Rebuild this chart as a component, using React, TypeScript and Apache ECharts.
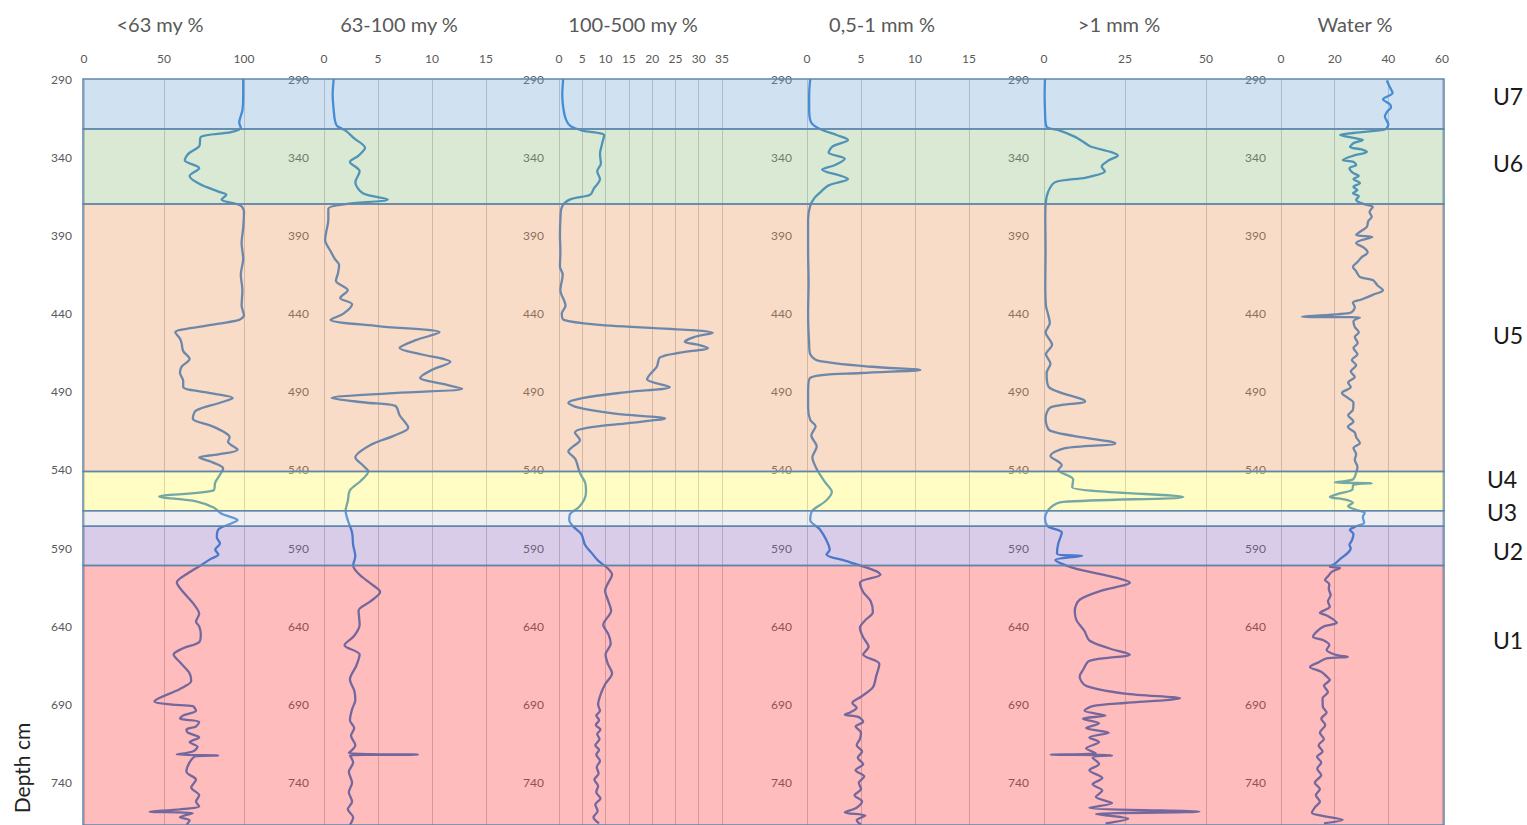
import React, { useEffect, useRef } from 'react';
import * as echarts from 'echarts';

// ---------- axis / text data ----------
const titles = ['<63 my %', '63-100 my %', '100-500 my %', '0,5-1 mm %', '>1 mm %', 'Water %'];
const xMax = [100, 15, 35, 15, 50, 60];
const xInterval = [50, 5, 5, 5, 25, 20];
const depthTicks = [290, 340, 390, 440, 490, 540, 590, 640, 690, 740];
const depthMin = 290;
const depthMax = 767;

// ---------- units ----------
const unitNames = ['U7', 'U6', 'U5', 'U4', 'U3', 'U2', 'U1'];
const unitTop = [290, 322, 370, 541, 566, 576, 601];
const unitBottom = [322, 370, 541, 566, 576, 601, 767];
const unitLabelDepth = [301, 344, 454, 546, 567, 592, 649];

// ---------- series ----------
const p1Depth = [290, 300, 310, 318, 321, 324, 327, 333, 338, 342, 347, 352, 357, 362, 364, 367, 371, 375, 385, 395, 405, 415, 425, 435, 441, 444, 448, 452, 456, 459, 464, 469, 474, 478, 483, 487, 491, 494, 497, 502, 507, 512, 516, 519, 522, 527, 530, 532, 535, 539, 543, 548, 553, 557, 560, 564, 568, 572, 575, 578, 583, 587, 591, 594, 597, 601, 606, 612, 618, 625, 632, 637, 640, 645, 650, 654, 658, 663, 670, 675, 680, 688, 690, 691, 694, 697, 699, 701, 704, 706, 708, 711, 714, 717, 720, 722, 722.5, 723, 727, 733, 738, 743, 748, 752, 755, 757, 758.5, 759.5, 762, 764, 767];
const p1Val = [99.5, 99.5, 99, 97, 98, 92, 73, 72, 65, 63, 72, 66, 72, 84, 89, 86, 98, 100, 99.5, 98.5, 99.5, 98, 99, 98.5, 100, 97, 75, 57, 60, 61, 62, 66, 61, 60, 62, 62, 80, 93, 85, 70, 68, 80, 88, 91, 90, 96, 84, 72, 80, 87, 85, 82, 81, 47, 70, 81, 86, 96, 90, 84, 83, 85, 82, 84, 79, 73, 65, 58, 62, 68, 72, 70, 72, 73, 72, 62, 56, 60, 66, 67, 60, 44, 55, 68, 70, 62, 60, 72, 70, 64, 65, 72, 66, 71, 68, 58, 84, 70, 66, 64, 70, 67, 72, 70, 72, 60, 41, 68, 60, 66, 64];

const p2Depth = [290, 300, 310, 316, 320, 323, 328, 334, 339, 343, 349, 356, 363, 367, 370, 373, 380, 388, 393, 400, 405, 409, 414, 419, 425, 430, 434, 440, 444, 448, 452, 457, 462, 466, 471, 476, 481, 485, 488, 491, 494, 497, 499, 505, 513, 518, 524, 532, 537, 541, 547, 553, 560, 566, 572, 580, 588, 595, 601, 607, 613, 618, 624, 630, 639, 646, 652, 658, 665, 674, 681, 687, 693, 700, 705, 710, 716, 721, 722, 722.5, 727, 733, 740, 746, 752, 757, 762, 767];
const p2Val = [0.9, 0.8, 0.9, 1.0, 1.2, 2.0, 2.8, 3.8, 3.2, 2.4, 3.3, 2.9, 3.6, 5.9, 2.0, 0.4, 0.4, 0.2, 0.1, 0.6, 1.0, 1.4, 1.3, 1.1, 2.2, 1.5, 2.6, 1.8, 0.6, 5, 10.7, 8.5, 7, 9, 11.7, 10, 8.9, 11, 12.8, 6, 0.7, 4, 6.6, 7, 7.8, 6.5, 4.3, 2.9, 3.6, 4.1, 3.4, 2.4, 2.2, 2.0, 2.2, 2.6, 2.7, 2.9, 2.7, 3.3, 4.4, 5.2, 4.3, 3.2, 3.3, 2.8, 1.9, 3.3, 3.0, 2.4, 2.8, 2.9, 2.6, 2.4, 2.8, 2.5, 2.9, 2.3, 8.7, 2.4, 2.7, 2.3, 2.6, 2.3, 2.6, 2.2, 2.7, 2.4];

const p3Depth = [290, 300, 310, 316, 320, 323, 326, 332, 338, 344, 349, 354, 360, 364, 367, 372, 380, 390, 400, 410, 415, 425, 435, 440, 444, 447, 452.4, 455, 458, 460, 462, 465, 468, 474, 479, 482, 487, 490, 494, 497, 500, 504, 507, 510, 513, 516, 521, 525, 528, 533, 542, 548, 554, 559, 564, 568, 572, 576, 581, 588, 593, 598, 603, 607, 612, 617, 624, 630, 639, 645, 651, 658, 664, 670, 677, 683, 690, 694, 697, 700, 703, 706, 709, 712, 716, 719, 722, 726, 730, 734, 738, 742, 746, 750, 754, 758, 762, 766];
const p3Val = [0.9, 0.7, 1.0, 1.5, 2.4, 5, 9.7, 9.2, 8.8, 9.0, 8.2, 8.8, 7.5, 6.7, 2.4, 0.6, 0.3, 0.2, 0.3, 0.2, 0.8, 0.3, 1.4, 0.6, 1, 8, 33, 29, 27, 30, 32, 26, 21.7, 21, 19.5, 18.9, 23.8, 15, 5, 2, 4, 12, 22.8, 15, 6, 3.4, 4.5, 3, 2, 3.5, 4.5, 5.6, 5.8, 5.4, 4.2, 2.4, 2.2, 3.0, 4.8, 5.6, 7.0, 8.4, 10.5, 11.4, 10.6, 9.9, 10.6, 11.2, 9.5, 10.6, 11.1, 10.0, 10.5, 11.4, 9.9, 9.0, 8.4, 8.8, 8.0, 8.6, 7.9, 8.9, 8.2, 8.7, 7.8, 8.6, 8.0, 8.8, 8.1, 8.5, 7.6, 8.4, 8.0, 8.9, 7.8, 8.3, 7.4, 8.6];

const p4Depth = [290, 300, 310, 318, 322, 326, 329, 333, 337, 341, 345, 348, 352, 354, 358, 362, 366, 371, 380, 400, 420, 440, 460, 466, 470, 474, 476, 478, 481, 490, 500, 508, 512, 518, 525, 532, 538, 543, 548, 554, 560, 566, 572, 578, 585, 591, 594, 598, 601, 605, 607, 612, 618, 624, 631, 636, 641, 647, 653, 658, 664, 672, 679, 685, 689, 692, 695, 696.5, 698, 701, 704, 708, 712, 716, 720, 724, 728, 732, 736, 740, 744, 748, 752, 756, 759, 761, 764, 767];
const p4Val = [0.3, 0.2, 0.2, 0.4, 1.2, 2.8, 3.8, 2.4, 2.0, 3.5, 2.6, 1.4, 3.2, 3.8, 2.0, 1.3, 0.7, 0.3, 0.1, 0.1, 0.15, 0.1, 0.2, 0.3, 1.0, 6, 10.5, 5, 0.3, 0.1, 0.1, 0.3, 0.8, 0.4, 0.9, 0.5, 0.8, 1.2, 1.7, 2.3, 1.7, 0.5, 0.3, 1.2, 1.8, 2.1, 1.8, 3.5, 4.9, 6.5, 6.8, 4.9, 5.2, 5.9, 6.1, 5.4, 4.9, 5.2, 5.7, 5.2, 6.7, 6.4, 6.1, 5.0, 4.2, 4.6, 4.0, 3.5, 4.8, 5.2, 4.5, 5.0, 4.9, 4.6, 5.1, 4.7, 5.2, 4.5, 5.3, 4.8, 5.0, 4.4, 5.1, 4.6, 3.5, 5.4, 4.6, 5.0];

const p5Depth = [290, 300, 310, 318, 321, 323, 327, 330, 333, 339, 342, 346, 349, 353, 356, 362, 370, 380, 400, 420, 435, 440, 446, 452, 460, 466, 472, 478, 487, 496, 500, 507, 515, 523, 526, 531, 537, 540, 546, 551, 557.2, 560.4, 564, 570.6, 576, 580, 587, 593.6, 594.9, 597.5, 602.6, 609, 612, 617, 623, 630, 636, 643, 649, 654, 658, 662, 668, 672, 678, 683, 686, 689, 691, 694, 697, 699, 702, 705, 708, 711, 714, 718, 721, 722, 722.5, 724, 728, 732, 737, 741, 745, 749, 753, 756, 758.5, 760, 763, 766];
const p5Val = [0.3, 0.2, 0.3, 0.5, 1.0, 4.9, 9.6, 12, 14.2, 22.8, 20, 17.8, 18.8, 13, 3.4, 1.3, 0.5, 0.4, 0.5, 0.4, 0.6, 1.2, 1.8, 0.5, 2.5, 0.6, 2.0, 0.8, 1.5, 12.7, 2.0, 0.5, 2.0, 22, 6.5, 2, 5.5, 4.4, 9, 8.7, 43, 6, 2, 0.3, 1.2, 5.5, 4.4, 4, 11.8, 3.5, 9, 22.5, 26.5, 18, 11, 9.5, 10, 12.5, 14, 20, 26.5, 14, 12, 11, 13, 25, 42, 25, 15, 12.5, 19, 12, 17, 13, 20, 14, 17, 13, 16, 2, 21, 15, 17, 14, 18, 15, 18, 16, 21, 14, 48, 16, 26, 19];

const p6Depth = [291, 295, 299, 303, 306, 308, 311, 314, 317, 319, 322, 324, 325.8, 328, 329, 331, 333.5, 335, 336.7, 339, 341.8, 343, 345, 347, 350, 352, 354, 356.5, 359, 361, 363, 365, 367.3, 370, 371.8, 375, 378, 381, 384.6, 387, 389.7, 391, 393, 394.8, 398, 401, 404, 407, 410, 413, 416.6, 418.5, 422, 425, 428, 431, 433, 436, 439.6, 442, 442.5, 445, 448.5, 452, 455, 458.8, 462, 466, 469.6, 473, 477, 480.5, 484, 487, 490.7, 494, 497, 501.6, 505, 509, 512.4, 516, 519, 522.7, 526, 530, 533.5, 538, 541.9, 546, 548, 548.5, 549.5, 552.7, 555, 557.2, 559, 561, 563, 565.5, 567.4, 570, 573.8, 576, 578.3, 581, 584.7, 588, 590, 593, 597, 600, 601.9, 602.6, 605, 608, 610.3, 613, 616, 620, 624, 627.5, 631.3, 633, 635, 637.7, 640, 643, 646.7, 649, 652, 655, 658, 659.5, 660.5, 663, 665.9, 669, 672, 674.2, 678, 682, 686, 691.4, 695, 699, 703, 708, 712, 716, 720, 723.4, 727, 731, 735, 740, 744, 748, 752, 756, 759.2, 761, 763.7, 766];
const p6Val = [39.4, 40.5, 41.6, 38, 40.5, 41, 39.5, 38.7, 39.5, 40, 39, 30, 22, 28, 30.5, 27, 25.7, 30, 32, 27, 23, 27, 28, 25.5, 26.8, 29, 27, 29.4, 27, 28.5, 26.8, 29, 28, 31, 34.2, 33, 33.8, 32.5, 32, 30, 28, 34, 30, 28, 31, 32.3, 30, 28.5, 26.8, 28, 29.4, 34.2, 36, 38, 34.2, 30, 26.8, 27.5, 25.7, 7.8, 29.4, 27, 27.5, 29, 27.5, 28.6, 27, 28.5, 26.4, 28, 26, 27.5, 25, 26, 22.7, 25, 27, 26.8, 25, 27, 24.9, 27.5, 28, 29.4, 27, 28, 27.5, 28.5, 28, 26.8, 20, 33.8, 27, 26.5, 22, 18.2, 24, 26.8, 25, 28, 31.2, 30.5, 31, 28, 25.7, 27, 26.5, 25.5, 26, 24.9, 22, 20, 18.2, 22, 19, 17.5, 16.4, 18, 17.8, 18.5, 17.5, 18.2, 14.5, 17, 19, 20.8, 16, 13.5, 11.9, 16, 18, 17, 20, 24.9, 17, 14, 10.8, 15, 17, 18.2, 16, 17.5, 15.5, 15.6, 17, 15, 16.5, 14.5, 16, 14, 15.5, 13.4, 15, 13.5, 15, 12.6, 14.5, 13, 14.5, 12.5, 11.5, 15, 23, 16];

const panelDepths = [p1Depth, p2Depth, p3Depth, p4Depth, p5Depth, p6Depth];
const panelValues = [p1Val, p2Val, p3Val, p4Val, p5Val, p6Val];

// ---------- layout / style ----------
const panelLeft = [84, 324, 559, 807, 1044, 1281];
const panelWidth = [160, 162, 163, 162, 162, 161];
const titleCenter = [155, 394, 628, 877, 1114, 1350];
const unitLabelDx = [64, 64, 64, 58, 58, 64, 64];
const unitFill = [
  'rgba(121,169,218,0.35)',
  'rgba(149,192,132,0.35)',
  'rgba(235,155,98,0.35)',
  'rgba(255,249,84,0.35)',
  'rgba(206,206,218,0.35)',
  'rgba(143,109,189,0.35)',
  'rgba(255,64,64,0.35)',
];
const FONT = 'Lato, "Open Sans", sans-serif';
const GRID_TOP = 79;
const LINE_COLOR = '#2a7dd2';

export default function App() {
  const ref = useRef<HTMLDivElement>(null);

  useEffect(() => {
    if (!ref.current) return;
    const chart = echarts.init(ref.current, null, { renderer: 'svg' });

    const grids: any[] = panelLeft.map((l, i) => ({
      left: l,
      width: panelWidth[i],
      top: GRID_TOP,
      bottom: 0,
      containLabel: false,
    }));
    grids.push({ left: 83, right: 83, top: GRID_TOP, bottom: 0, containLabel: false });

    const xAxes: any[] = panelLeft.map((_, i) => ({
      type: 'value',
      gridIndex: i,
      position: 'top',
      min: 0,
      max: xMax[i],
      interval: xInterval[i],
      axisLine: { show: false },
      axisTick: { show: false },
      splitLine: { show: true, lineStyle: { color: '#c6c6c6', width: 1 } },
      axisLabel: { color: '#595959', fontSize: 12, fontFamily: FONT, margin: 15 },
    }));
    xAxes.push({ type: 'value', gridIndex: 6, min: 0, max: 1, show: false });

    const yAxes: any[] = panelLeft.map((_, i) => ({
      type: 'value',
      gridIndex: i,
      inverse: true,
      min: depthMin,
      max: depthMax,
      interval: 10,
      axisLine: { show: false },
      axisTick: { show: false },
      splitLine: { show: false },
      axisLabel: {
        interval: 0,
        color: '#595959',
        fontSize: 12,
        fontFamily: FONT,
        margin: i === 0 ? 12 : 15,
        formatter: (v: number) => (depthTicks.indexOf(v) >= 0 ? String(v) : ''),
      },
    }));
    yAxes.push({ type: 'value', gridIndex: 6, inverse: true, min: depthMin, max: depthMax, show: false });

    const lineSeries: any[] = panelDepths.map((depths, i) => ({
      type: 'line',
      name: titles[i],
      xAxisIndex: i,
      yAxisIndex: i,
      data: depths.map((d, j) => [panelValues[i][j], d]),
      showSymbol: false,
      smooth: 0.3,
      lineStyle: { color: LINE_COLOR, width: 2.3 },
      z: 2,
      silent: true,
    }));

    const bandSeries = {
      type: 'custom',
      xAxisIndex: 6,
      yAxisIndex: 6,
      z: 10,
      silent: true,
      clip: false,
      encode: { x: 0, y: [1, 2, 3] },
      data: unitTop.map((t, i) => [0, t, unitBottom[i], unitLabelDepth[i]]),
      renderItem: (params: any, api: any) => {
        const idx = params.dataIndex;
        const p1 = api.coord([0, api.value(1)]);
        const p2 = api.coord([1, api.value(2)]);
        const pl = api.coord([1, api.value(3)]);
        return {
          type: 'group',
          children: [
            {
              type: 'rect',
              shape: { x: p1[0], y: p1[1], width: p2[0] - p1[0], height: p2[1] - p1[1] },
              style: { fill: unitFill[idx], stroke: '#5f87ad', lineWidth: 1.5 },
            },
            {
              type: 'text',
              x: pl[0] + unitLabelDx[idx],
              y: pl[1],
              style: {
                text: unitNames[idx],
                fill: '#1a1a1a',
                fontSize: 23,
                fontFamily: FONT,
                align: 'center',
                verticalAlign: 'middle',
              },
            },
          ],
        };
      },
    };

    const option: any = {
      animation: false,
      backgroundColor: '#ffffff',
      textStyle: { fontFamily: FONT },
      title: titles.map((t, i) => ({
        text: t,
        left: titleCenter[i],
        top: 9,
        textAlign: 'center',
        textStyle: { color: '#595959', fontSize: 20, fontWeight: 'normal', fontFamily: FONT },
      })),
      grid: grids,
      xAxis: xAxes,
      yAxis: yAxes,
      series: [...lineSeries, bandSeries],
      graphic: [
        {
          type: 'text',
          x: 21,
          y: 768,
          rotation: Math.PI / 2,
          style: {
            text: 'Depth cm',
            fill: '#222222',
            fontSize: 21,
            fontFamily: FONT,
            align: 'center',
            verticalAlign: 'middle',
          },
        },
      ],
    };

    chart.setOption(option);
    return () => chart.dispose();
  }, []);

  return (
    <div
      ref={ref}
      style={{ position: 'fixed', left: 0, top: 0, width: 1527, height: 825, background: '#ffffff' }}
    />
  );
}
